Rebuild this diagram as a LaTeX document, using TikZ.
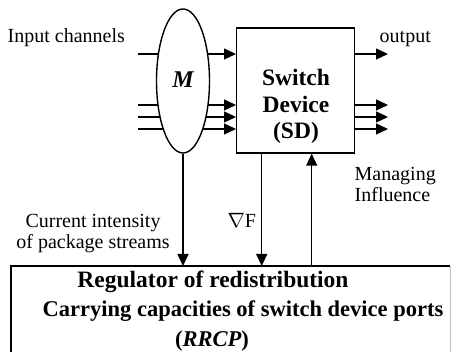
\documentclass[tikz,border=0pt]{standalone}
\usepackage{fontspec}
\setmainfont{Liberation Serif}
\usetikzlibrary{arrows.meta,shapes.geometric}
\begin{document}
\begin{tikzpicture}[x=1pt,y=-1pt,line width=1.4pt,
  arr/.style={-{Triangle[length=12pt,width=11pt]}},
  lbl/.style={font=\fontsize{20}{21}\selectfont,inner sep=0pt},
  sdtext/.style={font=\fontsize{23.5}{27}\selectfont\bfseries,inner sep=0pt},
  rtext/.style={font=\fontsize{22.5}{24}\selectfont\bfseries,inner sep=0pt,anchor=base}]
\useasboundingbox (0,0) rectangle (451,352);
% switch device
\node (SD) [draw,rectangle,minimum width=118pt,minimum height=125pt,inner sep=0pt] at (295.7,90.5) {};
\node (sd1) [sdtext,anchor=base] at (296,86) {Switch};
\node (sd2) [sdtext,anchor=base] at (296,113) {Device};
\node (sd3) [sdtext,anchor=base] at (296,139) {(SD)};
% regulator box top edge
\coordinate (Rnw) at (11,266);
\coordinate (Rne) at (450,266);
\coordinate (Rsw) at (11,352);
\coordinate (Rse) at (450,352);
\draw (Rsw) -- (Rnw) -- (Rne);
\draw[black!25,line width=0.8pt] (Rne) -- (Rse);
\node (r1) [rtext,font=\fontsize{23.5}{24}\selectfont\bfseries] at (213,288) {Regulator of redistribution};
\node (r2) [rtext] at (243,317) {Carrying capacities of switch device ports};
\node (r3) [rtext] at (212,347) {(\textit{RRCP})};
% inputs
\coordinate (i1) at (138,54);
\coordinate (i2) at (138,105);
\coordinate (i3) at (138,117);
\coordinate (i4) at (138,129);
\foreach \k in {1,...,4} \draw[arr] (i\k) -- (i\k -| SD.west);
% multiplexer ellipse
\node (M) [draw,ellipse,fill=white,minimum width=53pt,minimum height=144pt,inner sep=0pt] at (183,81) {};
\node (Mt) [font=\fontsize{24}{24}\selectfont\bfseries\itshape,inner sep=0pt] at (183,80) {M};
% outputs
\coordinate (o1) at (388,54);
\coordinate (o2) at (388,105);
\coordinate (o3) at (388,117);
\coordinate (o4) at (388,129);
\foreach \k in {1,...,4} \draw[arr] (o\k -| SD.east) -- (o\k);
% vertical connectors
\coordinate (gx) at (261.7,0);
\coordinate (mx) at (311.7,0);
\draw[arr] (M.south) -- (M.south |- Rnw);
\draw[arr] (gx |- SD.south) -- (gx |- Rnw);
\draw[arr] (mx |- Rnw) -- (mx |- SD.south);
% labels
\node (lin) [lbl,anchor=base west] at (7,43) {Input channels};
\node (lout) [lbl,anchor=base west] at (379,43) {output};
\node (lcur) [lbl,anchor=base,align=center] at (93,249) {Current intensity\\of package streams};
\node (lgrad) [lbl,anchor=base west] at (227,228) {$\nabla$F};
\node (lman) [lbl,anchor=base west,align=left] at (354,202) {Managing\\Influence};
\end{tikzpicture}
\end{document}
